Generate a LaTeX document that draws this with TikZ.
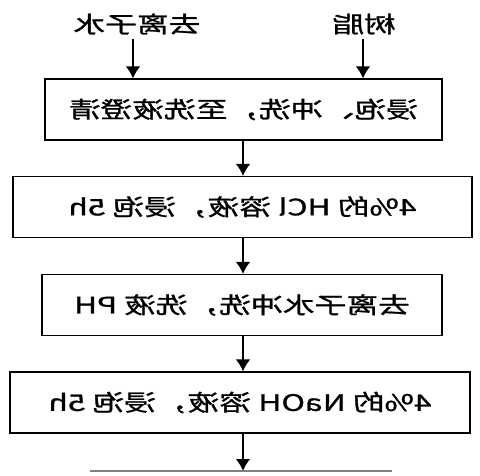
\documentclass[tikz,border=0pt]{standalone}
\usepackage{fontspec}
\newfontfamily\cjk[FakeBold=1]{Noto Sans CJK SC}
\usetikzlibrary{arrows.meta,positioning}
\tikzset{>=latex}
\tikzset{
  stepbox/.style={draw,line width=1.1pt,minimum height=45.5pt,inner sep=0pt},
  flow/.style={->,line width=1.3pt,>={Latex[length=9pt,width=11pt]}},
}
% text is mirrored and widened as in the scan
\newcommand{\mirtxt}[1]{\scalebox{-1.4}[1]{\cjk\fontsize{17pt}{20pt}\selectfont #1}}

\begin{document}
\begin{tikzpicture}[x=0.75pt,y=-0.75pt]
    \useasboundingbox (0,0) rectangle (480,476);
    \node (water) at (137,24) {\mirtxt{去离子水}};
    \node (resin) at (364,24) {\mirtxt{树脂}};
    \node [stepbox,minimum width=297.75pt] (soak) at (243.5,109.5) {\mirtxt{浸泡、冲洗，至洗液澄清}};
    \node [stepbox,minimum width=344.25pt] (hcl) at (242.5,207) {\mirtxt{4\%的 HCl 溶液，浸泡 5h}};
    \node [stepbox,minimum width=300pt] (rinse) at (242,305) {\mirtxt{去离子水冲洗，洗液 PH}};
    \node [stepbox,minimum width=345pt] (naoh) at (240,402.5) {\mirtxt{4\%的 NaOH 溶液，浸泡 5h}};
    \coordinate (next) at (243,471);
    \draw [flow] (water.south -| 133,0) -- (soak.north -| 133,0);
    \draw [flow] (resin.south -| 363,0) -- (soak.north -| 363,0);
    \draw [flow] (soak.south -| 243,0) -- (hcl.north -| 243,0);
    \draw [flow] (hcl.south -| 243,0) -- (rinse.north -| 243,0);
    \draw [flow] (rinse.south -| 243,0) -- (naoh.north -| 243,0);
    \draw [flow] (naoh.south -| 243,0) -- (next);
    \draw [gray,line width=0.8pt] (90,471) -- (392,471);
\end{tikzpicture}
\end{document}
